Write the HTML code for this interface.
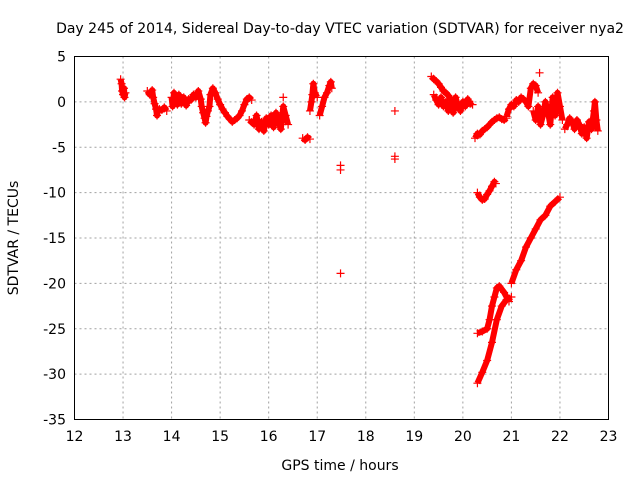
<!DOCTYPE html>
<html><head><meta charset="utf-8"><style>
body{margin:0;background:#fff;}
svg text{font-family:"DejaVu Sans","Liberation Sans",sans-serif;font-size:14px;fill:#000;}
</style></head><body>
<svg id="chart" width="640" height="480">
<text x="340" y="33" text-anchor="middle">Day 245 of 2014, Sidereal Day-to-day VTEC variation (SDTVAR) for receiver nya2</text>
<text x="340" y="470" text-anchor="middle">GPS time / hours</text>
<text transform="translate(18,238) rotate(-90)" text-anchor="middle">SDTVAR / TECUs</text>
<g id="grid"></g><g id="marks"></g>
<rect x="74.5" y="56.5" width="534" height="363" fill="none" stroke="#000"/>
</svg>
<script>
const xTicks=[12,13,14,15,16,17,18,19,20,21,22,23];
const yTicks=[5,0,-5,-10,-15,-20,-25,-30,-35];
const segA=[[12.95,2.5],[12.97,2.0],[12.98,1.2],[13.0,0.8],[13.02,1.5],[13.03,0.5],[13.05,1.0]];
const segB=[[13.5,1.2],[13.55,0.8],[13.6,1.3],[13.62,0.5],[13.65,-0.2],[13.68,-0.8],[13.7,-1.5],[13.72,-1.0],[13.75,-0.8],[13.8,-0.9],[13.85,-0.6],[13.9,-1.0]];
const segC=[[14.0,0.5],[14.02,-0.5],[14.05,1.0],[14.1,0.2],[14.12,-0.3],[14.15,0.8],[14.2,-0.2],[14.25,0.5],[14.3,-0.4],[14.35,0.3],[14.4,0.2],[14.45,0.8],[14.5,0.5],[14.55,1.2],[14.6,0.3],[14.62,-0.5],[14.65,-1.2],[14.68,-1.8],[14.7,-2.3],[14.72,-1.6],[14.75,-1.0],[14.78,-0.5],[14.8,0.8],[14.85,1.5],[14.9,1.0],[14.95,0.3],[15.0,-0.3],[15.05,-0.8],[15.1,-1.2],[15.15,-1.6],[15.2,-1.9],[15.25,-2.2],[15.3,-2.0],[15.35,-1.8],[15.4,-1.5],[15.45,-1.0],[15.5,-0.3],[15.55,0.3],[15.6,0.5],[15.65,0.2]];
const segD=[[15.6,-2],[15.7,-2.5],[15.75,-1.5],[15.8,-3],[15.85,-2.2],[15.9,-3.2],[15.95,-1.8],[16.0,-2.5],[16.05,-1.5],[16.1,-2.8],[16.15,-1.2],[16.2,-2.0],[16.25,-3.0],[16.3,-0.5],[16.35,-1.5],[16.4,-2.5]];
const segE=[[16.7,-4],[16.75,-4.2],[16.8,-3.9],[16.85,-4.1]];
const segF=[[16.85,-1.0],[16.88,0],[16.9,0.8],[16.92,2.0],[16.95,1.0],[17.0,0.5]];
const segG=[[17.05,-1.5],[17.1,-0.5],[17.15,0.5],[17.2,1.0],[17.25,1.8],[17.28,2.2],[17.3,1.5]];
const isolated=[[17.48,-7.0],[17.48,-7.5],[17.48,-18.9],[18.6,-1.0],[18.6,-6],[18.6,-6.3],[16.3,0.5],[21.58,3.2]];
const segH=[[19.35,2.8],[19.4,2.5],[19.45,2.3],[19.5,2.0],[19.55,1.6],[19.6,1.2],[19.65,1.0],[19.7,0.7],[19.75,0.3],[19.8,0]];
const segI=[[19.4,0.8],[19.45,0.2],[19.5,-0.3],[19.55,0.5],[19.6,-0.5],[19.65,0],[19.7,-1.0],[19.75,-0.3],[19.8,-1.2],[19.85,0.5],[19.9,-0.5],[19.95,-1.0],[20.0,0],[20.05,-0.5],[20.1,0.3],[20.15,-0.2],[20.2,-0.3]];
const segJ=[[20.25,-4],[20.3,-3.5],[20.35,-3.6],[20.4,-3.2],[20.45,-3.0],[20.5,-2.8],[20.55,-2.5],[20.6,-2.2],[20.65,-2],[20.7,-1.8],[20.75,-1.7],[20.8,-1.9],[20.85,-2.0],[20.9,-1.8]];
const segK=[[20.9,-1.6],[20.95,-0.8],[21.0,-0.3],[21.05,-0.5],[21.1,0.2],[21.15,0],[21.2,0.5],[21.25,0.3],[21.3,0],[21.35,-0.5],[21.4,1.5],[21.45,2.0],[21.5,1.8],[21.55,1.0]];
const segL=[[21.45,-1],[21.5,-2],[21.55,-0.5],[21.6,-2.5],[21.65,-1.5],[21.7,0],[21.75,-1.0],[21.8,-2.5],[21.85,0.5],[21.9,-1.5],[21.95,1.0],[22.0,-0.5],[22.05,-2.0]];
const segM=[[22.1,-3],[22.15,-2.5],[22.2,-1.8],[22.25,-2.2],[22.3,-3.0],[22.35,-2.0],[22.4,-2.5],[22.45,-3.5],[22.5,-2.8],[22.55,-4],[22.6,-2.2],[22.65,-3],[22.7,-1],[22.72,0],[22.75,-2],[22.78,-3.2]];
const segN=[[20.3,-10],[20.35,-10.5],[20.4,-10.8],[20.45,-10.7],[20.5,-10.2],[20.55,-9.8],[20.6,-9.3],[20.65,-8.8],[20.68,-9]];
const segO=[[20.3,-31],[20.4,-29.8],[20.5,-28.5],[20.6,-26.5],[20.7,-24],[20.8,-22.5],[20.9,-21.8],[21.0,-21.5]];
const segP=[[20.3,-25.5],[20.4,-25.3],[20.5,-25],[20.55,-24],[20.6,-22.5],[20.65,-21.5],[20.7,-20.5],[20.75,-20.3],[20.85,-21],[20.95,-22]];
const segQ=[[21.0,-20],[21.1,-18.5],[21.2,-17.5],[21.3,-16],[21.4,-15],[21.5,-14],[21.6,-13],[21.7,-12.5],[21.8,-11.5],[21.9,-11],[22.0,-10.5]];
const segments=[segA,segB,segC,segD,segE,segF,segG,segH,segI,segJ,segK,segL,segM,segN,segO,segP,segQ];

const X=v=>74.5+(v-12)*534/11;
const Y=v=>56.5+(5-v)*363/40;
const NS='http://www.w3.org/2000/svg';
const svg=document.getElementById('chart'),grid=document.getElementById('grid'),marks=document.getElementById('marks');
function mk(t,a,p){const e=document.createElementNS(NS,t);for(const k in a)e.setAttribute(k,a[k]);p.appendChild(e);return e;}
xTicks.forEach(t=>{
  const x=X(t);
  if(t>12&&t<23){const l=mk('line',{x1:x,x2:x,y1:56.5,y2:419.5,stroke:'#a0a0a0','stroke-dasharray':'2,3'},grid);
  
  }
  const tx=mk('text',{x:x,y:441,'text-anchor':'middle'},svg);tx.textContent=t;
  
  
});
yTicks.forEach(t=>{
  const y=Y(t);
  if(t<5&&t>-35){const l=mk('line',{x1:74.5,x2:608.5,y1:y,y2:y,stroke:'#a0a0a0','stroke-dasharray':'2,3'},grid);
  
  }
  const tx=mk('text',{x:66,y:y+5,'text-anchor':'end'},svg);tx.textContent=t;
  
  
});
function plus(p){
  const x=X(p[0]),y=Y(p[1]);
  const m=mk('path',{d:`M${x-4},${y}h8M${x},${y-4}v8`,stroke:'#f00','stroke-width':1.2,fill:'none'},marks);
  
  
}
segments.forEach(s=>{
  const pl=mk('polyline',{points:s.map(p=>X(p[0])+','+Y(p[1])).join(' '),stroke:'#f00','stroke-width':6,fill:'none','stroke-linejoin':'round'},marks);
  
  
  s.forEach(plus);
});
isolated.forEach(plus);
</script>
</body></html>
